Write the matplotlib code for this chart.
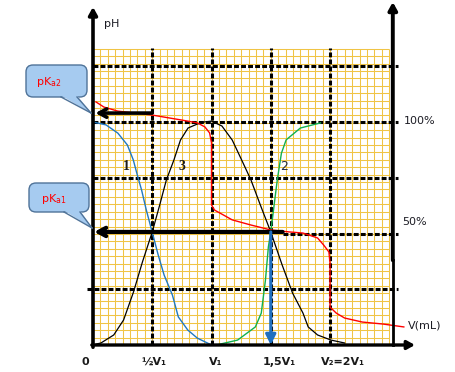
import matplotlib
matplotlib.use("Agg")
import matplotlib.pyplot as plt
from matplotlib.patches import FancyBboxPatch, Polygon, FancyArrowPatch
from matplotlib.transforms import Affine2D
import numpy as np

# ---------------- data (x in units of V1, y in % / pH scale) ----------------
blue_x = [0, 0.11, 0.21, 0.29, 0.34, 0.375, 0.41, 0.45, 0.5, 0.55, 0.6, 0.67, 0.72, 0.8, 0.88, 1.0]
blue_y = [100, 98.7, 95, 89.7, 83, 76, 69.5, 60.5, 50.5, 40.4, 31.4, 22.4, 12.6, 6.7, 3.1, 0]

green_x = [1.04, 1.22, 1.37, 1.42, 1.455, 1.48, 1.5, 1.555, 1.59, 1.63, 1.75, 1.92]
green_y = [0, 2.2, 8.1, 14.3, 29, 44, 50.7, 74, 86, 92, 97.3, 99.6]

black_x = [0.025, 0.067, 0.175, 0.258, 0.342, 0.417, 0.5, 0.563, 0.619, 0.683, 0.738, 0.802,
           0.881, 0.937, 1.0, 1.088, 1.175, 1.263, 1.333, 1.412, 1.5, 1.596, 1.684, 1.772,
           1.816, 1.895, 2.009, 2.123]
black_y = [0.4, 0.9, 4.5, 11.2, 23.8, 37.2, 50.7, 62.8, 74, 83, 91.9, 97.3,
           99.1, 100, 100.4, 98.2, 91.9, 82, 74, 62.8, 50.7, 35.9, 23.3, 14.3,
           8.1, 4.5, 2.2, 0.9]

red_x = [0.025, 0.092, 0.208, 0.5, 0.746, 0.881, 0.944, 0.984, 1.0, 1.0, 1.026, 1.175,
         1.333, 1.5, 1.658, 1.772, 1.895, 1.947, 1.991, 2.0, 2.0, 2.053, 2.123, 2.272,
         2.447, 2.623]
red_y = [109, 106.7, 104.9, 103.1, 100.9, 99.6, 97.8, 95.1, 90.6, 62.8, 60.5, 56.1,
         53.8, 51.6, 50.7, 50.2, 48, 44.8, 41.7, 36.8, 17, 14.3, 12.1, 10.3,
         9.4, 8.1]

pKa2_level = 104
pKa1_level = 50.7
h_levels = [25, 50, 75, 100, 125]
v_levels = [0.5, 1.0, 1.5, 2.0]
xtick_vals = [0, 0.5, 1.0, 1.5, 2.0]
xtick_labels = ["0", "½V₁", "V₁", "1,5V₁", "V₂=2V₁"]
curve_labels = ["1", "3", "2"]

# ---------------- figure ----------------
W, H = 455, 372
fig = plt.figure(figsize=(W / 100, H / 100), dpi=100)
ax = fig.add_axes([0, 0, 1, 1])
X0, SX = 93, 118.5
Y0, SY = 345, 2.23
ax.set_xlim(-X0 / SX, (W - X0) / SX)
ax.set_ylim(-(H - Y0) / SY, Y0 / SY)
ax.axis("off")

# pixel transform (origin top-left)
T = Affine2D().scale(1, -1).translate(0, H)

GOLD = "#F0C445"
gx = np.arange(41) * 0.0625
gy = np.arange(41) * (0.0625 * SX / SY)
ax.vlines(gx, 0, gy[-1], color=GOLD, lw=0.75, zorder=1)
ax.hlines(gy, 0, gx[-1], color=GOLD, lw=0.75, zorder=1)

dash = (0, (1.6, 0.7))
for v in v_levels:
    ax.plot([v, v], [0, 133], color="k", lw=2.2, ls=dash, zorder=2)
h_start = [-0.05, 1.6, 0, 0, 0]
for lvl, s in zip(h_levels, h_start):
    ax.plot([s, 2.57], [lvl, lvl], color="k", lw=2.2, ls=dash, zorder=2)

# curves
ax.plot(blue_x, blue_y, color="#1f78c1", lw=1.0, zorder=3)
ax.plot(green_x, green_y, color="#11b04f", lw=1.0, zorder=3)
ax.plot(black_x, black_y, color="k", lw=0.9, zorder=3)
ax.plot(red_x, red_y, color="#ff0000", lw=1.0, zorder=4)

def arrow(p1, p2, style, lw, color="k", z=6):
    a = FancyArrowPatch(p1, p2, arrowstyle=style, mutation_scale=10, lw=lw,
                        color=color, shrinkA=0, shrinkB=0, zorder=z)
    ax.add_patch(a)

# pKa arrows
arrow((0.5, pKa2_level), (0.02, pKa2_level), "->,head_length=0.55,head_width=0.3", 2.6)
arrow((1.6, pKa1_level), (0.01, pKa1_level), "->,head_length=0.55,head_width=0.3", 3.0)
# blue vertical arrow
arrow((1.5, pKa1_level), (1.5, 0), "-|>,head_length=0.6,head_width=0.3", 2.2, color="#1f6fbf")

# axes
arrow((0, -1), (0, 151.6), "-|>,head_length=0.45,head_width=0.25", 2.6, z=7)
arrow((-0.01, 0), (2.717, 0), "-|>,head_length=0.45,head_width=0.25", 2.4, z=7)
arrow((2.53, 38), (2.53, 153.8), "-|>,head_length=0.45,head_width=0.25", 2.8, z=7)
ax.plot([2.53, 2.53], [0, 38], color="k", lw=2.0, zorder=7)

# callouts
FACE = "#a6cbf0"
EDGE = "#4f7399"
def callout(x0, y0, w, h, tail, text, tx, ty):
    box = FancyBboxPatch((x0, y0), w, h, boxstyle="round,pad=0,rounding_size=7",
                         transform=T, facecolor=FACE, edgecolor=EDGE, lw=1.0, zorder=8)
    fig.add_artist(box)
    (ax1, ay1), (ax2, ay2), (tx_, ty_) = tail
    poly = Polygon([(ax1, ay1 - 1.5), (ax2, ay2 - 1.5), (tx_, ty_)], closed=True,
                   transform=T, facecolor=FACE, edgecolor="none", zorder=9)
    fig.add_artist(poly)
    for (bx, by) in [(ax1, ay1), (ax2, ay2)]:
        fig.add_artist(plt.Line2D([bx, tx_], [by, ty_], transform=T, color=EDGE,
                                  lw=1.0, zorder=10))
    fig.text(tx, ty, text, transform=T, color="#ff0000", fontsize=8,
             ha="center", va="center", zorder=11)

callout(26, 65, 61, 32, [(61, 97), (77, 97), (91, 113)], r"pK$_{\mathrm{a2}}$", 49, 82)
callout(29, 183, 60, 29, [(64, 212), (80, 212), (92, 228)], r"pK$_{\mathrm{a1}}$", 54, 199)

# texts
TXT = "#1c1c24"
fig.text(112, 24, "pH", transform=T, fontsize=8, color=TXT, ha="center", va="center")
fig.text(404, 121, "100%", transform=T, fontsize=8, color=TXT, ha="left", va="center")
fig.text(402, 222, "50%", transform=T, fontsize=8, color=TXT, ha="left", va="center")
fig.text(408, 326, "V(mL)", transform=T, fontsize=8, color=TXT, ha="left", va="center")

lab_pos = [(126, 167), (182, 167), (284, 167)]
for lab, (px, py) in zip(curve_labels, lab_pos):
    if lab == "2":
        fig.text(px, py, lab, transform=T, fontsize=9, color="#1f2a44",
                 ha="center", va="center")
    else:
        fig.text(px, py, lab, transform=T, fontsize=10, fontweight="bold",
                 family="Liberation Serif", color="#1a1a1a", ha="center", va="center")

# x tick labels (with small pixel offsets as in the reference)
offsets = [-8, 2, 4, 9, 13]
for v, lab, off in zip(xtick_vals, xtick_labels, offsets):
    px = X0 + SX * v + off
    fig.text(px, 362, lab, transform=T, fontsize=8, fontweight="bold", color="#1a1a1a",
             ha="center", va="center")

fig.savefig("out.png", dpi=100)
